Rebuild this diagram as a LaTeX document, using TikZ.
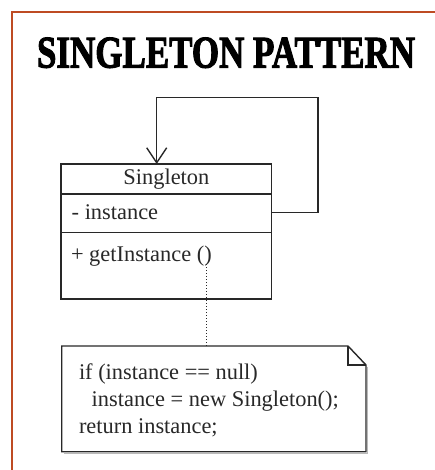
\documentclass[tikz,border=0pt]{standalone}
\usepackage{fontspec}
\setmainfont{Liberation Serif}
\newfontfamily\titlefont[FakeBold=2.5]{Liberation Serif Bold}
\usepackage{graphicx}
\usetikzlibrary{arrows.meta}
\definecolor{framecol}{RGB}{190,75,35}
\definecolor{ink}{RGB}{40,40,40}
\begin{document}
\begin{tikzpicture}[x=1pt,y=-1pt,
  every node/.style={inner sep=0pt, outer sep=0pt},
  txt/.style={anchor=base west, font=\fontsize{22.4}{27}\selectfont, text=ink},
  umlline/.style={draw=ink, line width=1.4pt},
  dotline/.style={draw=ink, dotted, line width=1pt},
]
\useasboundingbox (0,0) rectangle (435,470);
\draw[framecol, line width=1.5pt] (12,470) -- (12,12) -- (435,12);
\node[anchor=south west] (title) at (37,68) {\resizebox{378pt}{30pt}{\titlefont SINGLETON PATTERN}};

% class box
\node[umlline, minimum width=210.7pt, minimum height=135pt, anchor=north west] (cls) at (61,164) {};
\draw[umlline] (61,194) -- (271.7,194);
\draw[umlline] (61,232.7) -- (271.7,232.7);
\node[txt, anchor=base] (clsname) at (166.4,185) {Singleton};
\node[txt] (attr) at (71.7,219) {- instance};
\node[txt] (op) at (71,261) {+ getInstance ()};

% self association
\coordinate (selfout) at (271.7,212.7);
\coordinate (selfin) at (156.7,164);
\draw[umlline, -{Straight Barb[length=15pt,width=20pt]}] (selfout) -- (318,212.7) -- (318,97.3) -- (156.7,97.3) -- (selfin);

% note
\node[minimum width=304.3pt, minimum height=105.7pt, anchor=north west] (note) at (61.7,346) {};
\draw[gray!55, line width=1.5pt] ([xshift=2pt,yshift=-1.6pt]note.south west) -- ([xshift=1.6pt,yshift=-1.6pt]note.south east) -- ([xshift=1.6pt,yshift=-21pt]note.north east);
\draw[umlline, fill=white, line join=miter] (note.north west) -- ([xshift=-18pt]note.north east) -- ([yshift=-19pt]note.north east) -- (note.south east) -- (note.south west) -- cycle;
\draw[umlline] ([xshift=-18pt]note.north east) |- ([yshift=-19pt]note.north east);
\node[txt] (l1) at (79,379) {if (instance == null)};
\node[txt] (l2) at (91.7,406) {instance = new Singleton();};
\node[txt] (l3) at (79,433) {return instance;};

% anchor link
\coordinate (opanchor) at (206.7,264);
\draw[dotline] (opanchor) -- (note.north -| opanchor);
\end{tikzpicture}
\end{document}
